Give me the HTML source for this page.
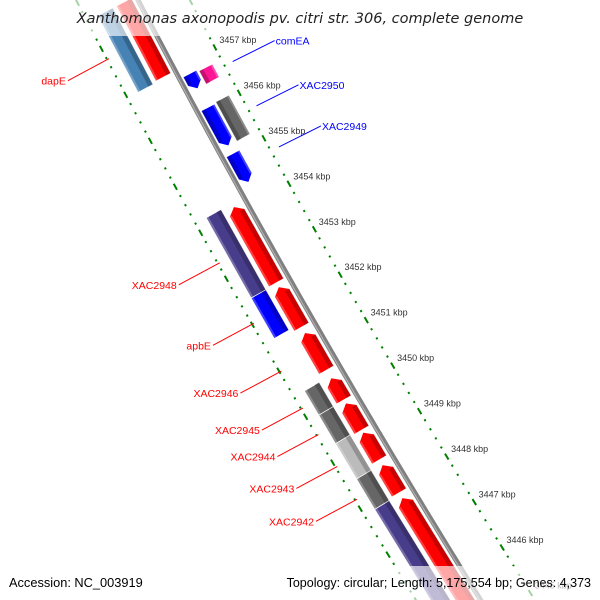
<!DOCTYPE html>
<html><head><meta charset="utf-8"><style>
html,body{margin:0;padding:0;background:#fff;overflow:hidden;width:600px;height:600px;}
svg{display:block;font-family:"Liberation Sans","DejaVu Sans",sans-serif;}
</style></head><body>
<svg id="map" width="600" height="600" viewBox="0 0 600 600" xmlns="http://www.w3.org/2000/svg">
<rect width="600" height="600" fill="#fff"/>
<g id="dots"></g>
<g id="backbone"></g>
<g id="genes"></g>
<g id="labels"></g>
<rect x="0" y="0" width="600" height="36" fill="#fff" fill-opacity="0.65"/>
<text x="300" y="23" text-anchor="middle" font-size="14.5" font-style="italic" fill="#222" font-family="DejaVu Sans, sans-serif">Xanthomonas axonopodis pv. citri str. 306, complete genome</text>
<rect x="0" y="566" width="600" height="34" fill="#fff" fill-opacity="0.65"/>
<text x="9" y="587" font-size="12.8" fill="#000">Accession: NC_003919</text>
<text x="591" y="587" text-anchor="end" font-size="12.5" fill="#000">Topology: circular; Length: 5,175,554 bp; Genes: 4,373</text>
</svg>
<script>
const tickKb = [3457,3456,3455,3454,3453,3452,3451,3450,3449,3448,3447,3446,3445];
const geneStart = [3458.6,3458.6,3454.2,3452.45,3450.43,3449.9,3449.28,3448.51,3447.85,
  3454.13,3452.38,3451.38,3450.39,3449.84,3449.2,3448.49,3447.77,
  3456.78,3456.04,3455.03,3456.74,3456.06];
const geneEnd = [3456.93,3456.96,3452.45,3451.57,3449.9,3449.28,3448.51,3447.85,3444,
  3452.47,3451.5,3450.56,3449.91,3449.25,3448.6,3447.88,3444,
  3456.45,3455.2,3454.4,3456.45,3455.2];
const geneTrack = [0,1,0,0,0,0,0,0,0, 1,1,1,1,1,1,1,1, 2,2,2,3,3];
const geneArrow = ['none','none','none','none','none','none','none','none','none',
  'up','up','up','up','up','up','up','up', 'down','down','down','none','none'];
const geneColor = ['#4682b4','#ff0000','#483d8b','#0000ff','#666666','#666666','#bbbbbb','#666666','#483d8b',
  '#ff0000','#ff0000','#ff0000','#ff0000','#ff0000','#ff0000','#ff0000','#ff0000',
  '#0000ff','#0000ff','#0000ff','#ff1493','#666666'];
const geneLabel = ['dapE','','XAC2948','apbE','XAC2945','XAC2944','XAC2943','XAC2942','',
  '','','XAC2946','','','','','', '','XAC2950','XAC2949','comEA',''];

const NS='http://www.w3.org/2000/svg';
const trackN = [[26,43],[5,22],[-4,-19],[-21,-36]];
function sOf(kb){ return 69 + (3457 - kb)*45.7; }
function xb(s){ return 138 + 0.52*s + 0.000085*s*s; }
function pt(s,n){ const d=0.52+0.00017*s, L=Math.sqrt(1+d*d); return [xb(s)-n/L, s+n*d/L]; }
function mk(tag,attrs,parent){ const e=document.createElementNS(NS,tag); for(const k in attrs) e.setAttribute(k,attrs[k]); parent.appendChild(e); return e; }
function pstr(a){ return a.map(p=>p[0].toFixed(1)+','+p[1].toFixed(1)).join(' '); }

const bb=document.getElementById('backbone');
let bp=[], bp2=[];
for(let s=-20;s<=620;s+=10){ bp.push(pt(s,0)); bp2.push(pt(s,1)); }
const bl=mk('polyline',{points:pstr(bp),fill:'none',stroke:'#808080','stroke-width':5},bb);


const bl2=mk('polyline',{points:pstr(bp2),fill:'none',stroke:'#b0b0b0','stroke-width':1.2},bb);



const dg=document.getElementById('dots');
[55,-46].forEach(n=>{
  for(let i=0;i<=80;i++){
    const kr=Math.round((3459-i*0.2)*10)/10;
    const s=sOf(kr);
    const major=Math.abs(kr-Math.round(kr))<0.01;
    const a=pt(s-(major?3:0.9),n), b=pt(s+(major?3:0.9),n);
    const l=mk('line',{x1:a[0],y1:a[1],x2:b[0],y2:b[1],stroke:'#008000','stroke-width':2},dg);
    
    
  }
});
tickKb.forEach(k=>{
  const p=pt(sOf(k),-51);
  const t=mk('text',{x:p[0],y:p[1]-2,'font-size':9,fill:'#333'},dg);
  t.textContent=k+' kbp';
  
  
});

const gg=document.getElementById('genes');
const lg=document.getElementById('labels');
for(let i=0;i<geneStart.length;i++){
  const s0=sOf(geneStart[i]), s1=Math.min(sOf(geneEnd[i]),640);
  const [na,nb]=trackN[geneTrack[i]];
  const nm=(na+nb)/2, h=6;
  let poly;
  if(geneArrow[i]==='up') poly=[pt(s0,nm),pt(s0+h,na),pt(s1,na),pt(s1,nb),pt(s0+h,nb)];
  else if(geneArrow[i]==='down') poly=[pt(s0,na),pt(s1-h,na),pt(s1,nm),pt(s1-h,nb),pt(s0,nb)];
  else poly=[pt(s0,na),pt(s1,na),pt(s1,nb),pt(s0,nb)];
  const g=mk('polygon',{points:pstr(poly),fill:geneColor[i],stroke:'#fff','stroke-width':0.7},gg);
  
  
  const ni = Math.abs(na)<Math.abs(nb)? na: nb;
  const no = ni===na? nb: na;
  const nsh = ni + (no-ni)*0.3;
  const a0 = geneArrow[i]==='up'? s0+h : s0, a1 = geneArrow[i]==='down'? s1-h : s1;
  const sh=mk('polygon',{points:pstr([pt(a0,ni),pt(a1,ni),pt(a1,nsh),pt(a0,nsh)]),fill:'#000','fill-opacity':0.22},gg);
  
  
  const hl=mk('polygon',{points:pstr([pt(a0,no),pt(a1,no),pt(a1,no-(no-ni)*0.15),pt(a0,no-(no-ni)*0.15)]),fill:'#fff','fill-opacity':0.25},gg);
  
  
  if(geneLabel[i]){
    const mid=(s0+s1)/2;
    const left = geneTrack[i]<2;
    const a=pt(mid, left?53:-55);
    const b=left?[a[0]-41,a[1]+22]:[a[0]+42,a[1]-21];
    const col=left?'#ff0000':'#0000ff';
    const ln=mk('line',{x1:a[0],y1:a[1],x2:b[0],y2:b[1],stroke:col,'stroke-width':1},lg);
    
    
    const t=mk('text',{x:left?b[0]-2:b[0]+1,y:b[1]+4,'font-size':10.5,fill:col,'text-anchor':left?'end':'start'},lg);
    t.textContent=geneLabel[i];
    
    
  }
}
</script>
</body></html>
